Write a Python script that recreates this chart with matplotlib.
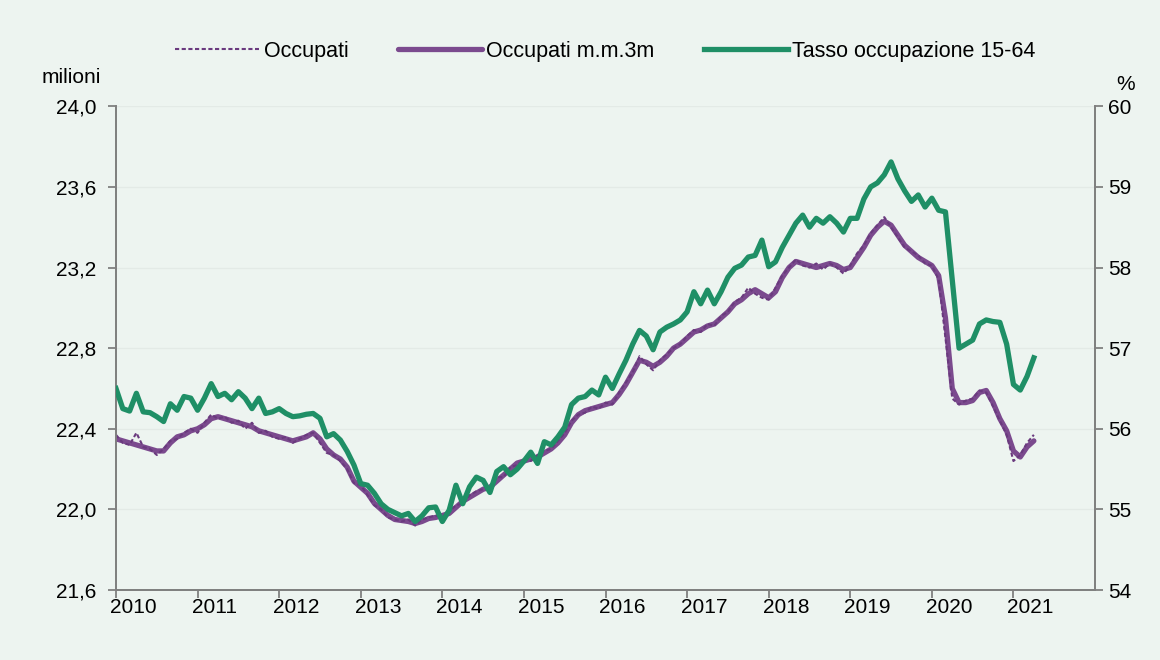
import numpy as np
import matplotlib.pyplot as plt
from matplotlib.ticker import FuncFormatter

plt.rcParams['font.family'] = ['Liberation Sans', 'DejaVu Sans']

# monthly data, Jan 2010 - Apr 2021
start_year = 2010
years = list(range(2010, 2022))

# Occupati (milioni), monthly
occupati = [
    22.37, 22.33, 22.32, 22.38, 22.31, 22.30, 22.27, 22.30, 22.34, 22.35, 22.38, 22.40,
    22.38, 22.43, 22.47, 22.45, 22.46, 22.43, 22.44, 22.40, 22.43, 22.38, 22.39, 22.36,
    22.35, 22.36, 22.33, 22.35, 22.37, 22.38, 22.33, 22.28, 22.27, 22.24, 22.20, 22.13,
    22.12, 22.07, 22.02, 22.00, 21.96, 21.95, 21.94, 21.95, 21.92, 21.95, 21.96, 21.97,
    21.96, 21.99, 22.02, 22.03, 22.07, 22.09, 22.10, 22.10, 22.16, 22.16, 22.21, 22.22,
    22.25, 22.24, 22.27, 22.29, 22.30, 22.34, 22.38, 22.44, 22.47, 22.48, 22.51, 22.50,
    22.53, 22.52, 22.58, 22.63, 22.68, 22.76, 22.72, 22.69, 22.74, 22.77, 22.80, 22.82,
    22.86, 22.89, 22.88, 22.92, 22.91, 22.96, 22.98, 23.03, 23.05, 23.10, 23.07, 23.05,
    23.04, 23.10, 23.16, 23.20, 23.24, 23.21, 23.20, 23.22, 23.19, 23.22, 23.20, 23.17,
    23.21, 23.27, 23.31, 23.37, 23.41, 23.45, 23.40, 23.35, 23.30, 23.28, 23.26, 23.22,
    23.21, 23.14, 22.85, 22.55, 22.52, 22.54, 22.55, 22.59, 22.58, 22.51, 22.44, 22.37,
    22.24, 22.27, 22.33, 22.37,
]

# Occupati, media mobile 3 mesi
occupati_mm3 = [
    22.35, 22.34, 22.33, 22.32, 22.31, 22.30, 22.29, 22.29, 22.33, 22.36, 22.37, 22.39,
    22.40, 22.42, 22.45, 22.46, 22.45, 22.44, 22.43, 22.42, 22.41, 22.39, 22.38, 22.37,
    22.36, 22.35, 22.34, 22.35, 22.36, 22.38, 22.35, 22.30, 22.27, 22.25, 22.21, 22.14,
    22.11, 22.08, 22.03, 22.00, 21.97, 21.95, 21.945, 21.94, 21.93, 21.94, 21.955, 21.96,
    21.97, 21.98, 22.01, 22.04, 22.06, 22.08, 22.10, 22.11, 22.14, 22.17, 22.20, 22.23,
    22.24, 22.25, 22.26, 22.28, 22.30, 22.33, 22.37, 22.43, 22.47, 22.49, 22.50, 22.51,
    22.52, 22.53, 22.57, 22.62, 22.68, 22.74, 22.73, 22.71, 22.73, 22.76, 22.80, 22.82,
    22.85, 22.88, 22.89, 22.91, 22.92, 22.95, 22.98, 23.02, 23.04, 23.07, 23.09, 23.07,
    23.05, 23.08, 23.15, 23.20, 23.23, 23.22, 23.21, 23.20, 23.21, 23.22, 23.21, 23.19,
    23.20, 23.25, 23.30, 23.36, 23.40, 23.43, 23.41, 23.36, 23.31, 23.28, 23.25, 23.23,
    23.21, 23.16, 22.95, 22.60, 22.53, 22.53, 22.54, 22.58, 22.59, 22.53, 22.45, 22.39,
    22.29, 22.26, 22.31, 22.34,
]

# Tasso di occupazione 15-64 (%)
tasso = [
    56.50, 56.25, 56.22, 56.44, 56.21, 56.20, 56.15, 56.09, 56.31, 56.23, 56.40, 56.38,
    56.23, 56.38, 56.56, 56.40, 56.44, 56.36, 56.46, 56.38, 56.25, 56.38, 56.19, 56.21,
    56.25, 56.19, 56.15, 56.16, 56.18, 56.19, 56.13, 55.90, 55.94, 55.86, 55.72, 55.55,
    55.32, 55.30, 55.20, 55.07, 55.00, 54.96, 54.92, 54.95, 54.85, 54.92, 55.02, 55.03,
    54.85, 54.99, 55.30, 55.07, 55.28, 55.40, 55.36, 55.21, 55.47, 55.53, 55.43, 55.50,
    55.60, 55.71, 55.57, 55.84, 55.80, 55.90, 56.02, 56.30, 56.38, 56.40, 56.48, 56.42,
    56.64, 56.50, 56.68, 56.85, 57.05, 57.22, 57.15, 56.98, 57.20, 57.26, 57.30, 57.35,
    57.45, 57.70, 57.55, 57.72, 57.55, 57.70, 57.88, 57.99, 58.03, 58.13, 58.15, 58.34,
    58.01, 58.07, 58.25, 58.40, 58.55, 58.65, 58.50, 58.61, 58.55, 58.63, 58.55, 58.44,
    58.61, 58.61, 58.85, 59.00, 59.05, 59.15, 59.31, 59.10, 58.95, 58.82, 58.90, 58.75,
    58.86, 58.71, 58.69, 57.85, 57.00, 57.05, 57.10, 57.30, 57.35, 57.33, 57.32, 57.05,
    56.55, 56.48, 56.65, 56.88,
]

x = start_year + np.arange(len(tasso)) / 12.0

purple = '#7b4a8e'
green = '#1f8f66'
bg = '#edf4f0'

fig = plt.figure(figsize=(11.6, 6.6), dpi=100, facecolor=bg)
ax = fig.add_axes([0.100, 0.106, 0.844, 0.733], facecolor=bg)
ax2 = ax.twinx()

l1, = ax.plot(x, occupati_mm3, color=purple, lw=3.8, solid_capstyle='round', zorder=3)
l0, = ax.plot(x, occupati, color='#6a3a7e', lw=1.5, ls=(0, (2, 1.2)), zorder=4)
l2, = ax2.plot(x, tasso, color=green, lw=3.8, zorder=3)

ax.set_xlim(2010, 2022)
ax.set_ylim(21.6, 24.0)
ax2.set_ylim(54, 60)
ax.set_yticks(np.arange(21.6, 24.01, 0.4))
ax2.set_yticks(range(54, 61))
ax.yaxis.set_major_formatter(FuncFormatter(lambda v, p: f'{v:.1f}'.replace('.', ',')))

# ticks at year boundaries, labels shifted inside the year
ax.set_xticks(years)
ax.set_xticklabels([])
ax.set_xticks([y + 0.21 for y in years], minor=True)
ax.set_xticklabels([str(y) for y in years], minor=True)

ax.grid(axis='y', color='#e3eae6', lw=1)
ax.set_axisbelow(True)

spine_col = '#808080'
for a in (ax, ax2):
    a.spines['top'].set_visible(False)
    for s in ('left', 'right', 'bottom'):
        a.spines[s].set_color(spine_col)
        a.spines[s].set_linewidth(1.3)
    a.tick_params(colors=spine_col, labelcolor='black', labelsize=15, width=1.3, length=6)
ax.tick_params(axis='y', pad=8)
ax.tick_params(axis='x', which='minor', length=0, pad=6, labelsize=15, labelcolor='black')

fig.text(0.061, 0.882, 'milioni', fontsize=15, ha='center', va='center')
fig.text(0.970, 0.872, '%', fontsize=15, ha='center', va='center')

fig.legend([l0, l1, l2], ['Occupati', 'Occupati m.m.3m', 'Tasso occupazione 15-64'],
           loc='center', bbox_to_anchor=(0.522, 0.922), ncol=3, frameon=False,
           fontsize=15.5, handlelength=3.9, columnspacing=2.3, handletextpad=0.2)

fig.savefig('out.png', dpi=100, facecolor=bg)
